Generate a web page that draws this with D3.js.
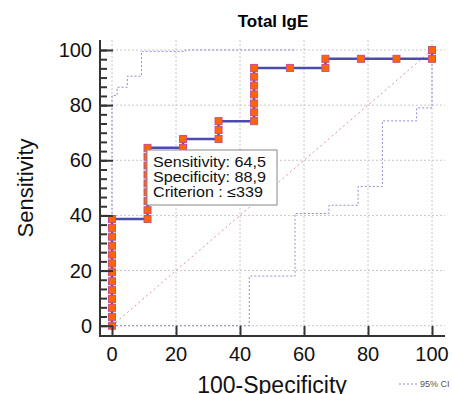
<!DOCTYPE html>
<html>
<head>
<meta charset="utf-8">
<script src="https://cdn.jsdelivr.net/npm/d3@7"></script>
<style>
body { margin: 0; background: #fff; }
text { font-family: "Liberation Sans", Arial, sans-serif; }
</style>
</head>
<body>
<div id="chart"></div>
<script>
// ROC points: 100-Specificity vs Sensitivity
var fpr = [0,0,0,0,0,0,0,0,0,0,0,0,0,
    11.1,11.1,11.1,11.1,11.1,11.1,11.1,11.1,11.1,
    22.2,22.2,
    33.3,33.3,33.3,
    44.4,44.4,44.4,44.4,44.4,44.4,44.4,
    55.6,
    66.7,66.7,
    77.8,
    88.9,
    100,100];
var sens = [0,3.2,6.5,9.7,12.9,16.1,19.4,22.6,25.8,29.0,32.3,35.5,38.7,
    38.7,41.9,45.2,48.4,51.6,54.8,58.1,61.3,64.5,
    64.5,67.7,
    67.7,71.0,74.2,
    74.2,77.4,80.6,83.9,87.1,90.3,93.5,
    93.5,
    93.5,96.8,
    96.8,
    96.8,
    96.8,100];

// 95% CI bands
var upperX = [0,0,1.6,1.6,4.8,4.8,9.2,9.2,23,23,57];
var upperY = [0,83.5,83.5,86.5,86.5,90.5,90.5,99.5,99.5,100,100];
var lowerX = [0,42.9,42.9,57.2,57.2,67.8,67.8,76.9,76.9,84.5,84.5,95.2,95.2,100,100];
var lowerY = [0,0,18,18,40.7,40.7,43.7,43.7,50.5,50.5,74.3,74.3,79,79,96.8];

var ticks = [0, 20, 40, 60, 80, 100];
var boxLines = ["Sensitivity: 64,5", "Specificity: 88,9", "Criterion : \u2264339"];
var boxWidths = [113, 113, 110];

var width = 452, height = 394;
var x = d3.scaleLinear().domain([0, 100]).range([112, 432]);
var y = d3.scaleLinear().domain([0, 100]).range([325.7, 50]);

var svg = d3.select("#chart").append("svg")
    .attr("width", width)
    .attr("height", height);

// grid
svg.append("g").selectAll("line")
    .data(ticks).enter().append("line")
    .attr("x1", function(d) { return x(d); })
    .attr("x2", function(d) { return x(d); })
    .attr("y1", 40).attr("y2", 336)
    .attr("stroke", "#c8c8c8").attr("stroke-dasharray", "2,2");
svg.append("g").selectAll("line")
    .data(ticks).enter().append("line")
    .attr("x1", 100).attr("x2", 445)
    .attr("y1", function(d) { return y(d); })
    .attr("y2", function(d) { return y(d); })
    .attr("stroke", "#c8c8c8").attr("stroke-dasharray", "2,2");

// diagonal
svg.append("line")
    .attr("x1", x(0)).attr("y1", y(0))
    .attr("x2", x(100)).attr("y2", y(100))
    .attr("stroke", "#e09090").attr("stroke-dasharray", "2,3");

var line = d3.line()
    .x(function(d) { return x(d[0]); })
    .y(function(d) { return y(d[1]); });

svg.append("path")
    .attr("d", line(d3.zip(upperX, upperY)))
    .attr("fill", "none").attr("stroke", "#8c8cd8").attr("stroke-dasharray", "2,2");
svg.append("path")
    .attr("d", line(d3.zip(lowerX, lowerY)))
    .attr("fill", "none").attr("stroke", "#8c8cd8").attr("stroke-dasharray", "2,2");

var pts = d3.zip(fpr, sens);
svg.append("path")
    .attr("d", line(pts))
    .attr("fill", "none").attr("stroke", "#4b4bb0").attr("stroke-width", 2.5);

svg.append("g").selectAll("rect")
    .data(pts).enter().append("rect")
    .attr("x", function(d) { return x(d[0]) - 3.5; })
    .attr("y", function(d) { return y(d[1]) - 3.5; })
    .attr("width", 7).attr("height", 7)
    .attr("fill", "#ff6600")
    .attr("stroke", "#c8508a").attr("stroke-width", 1);

// axes
svg.append("g").attr("transform", "translate(100,0)")
    .call(d3.axisRight(y).tickValues(ticks).tickSize(13).tickFormat(""))
    .select(".domain").remove();
svg.append("g").attr("transform", "translate(100,0)")
    .call(d3.axisRight(y).tickValues(d3.range(0, 100.1, 20 / 6)).tickSize(7).tickFormat(""))
    .select(".domain").remove();
svg.append("g").attr("transform", "translate(0,336)")
    .call(d3.axisTop(x).tickValues(ticks).tickSize(10).tickFormat(""))
    .select(".domain").remove();
svg.selectAll(".tick line").attr("stroke", "#333").attr("stroke-width", 2);

svg.append("line").attr("x1", 100).attr("x2", 100).attr("y1", 40).attr("y2", 337)
    .attr("stroke", "#333").attr("stroke-width", 2);
svg.append("line").attr("x1", 99).attr("x2", 445).attr("y1", 336).attr("y2", 336)
    .attr("stroke", "#333").attr("stroke-width", 2);

svg.append("g").selectAll("text")
    .data(ticks).enter().append("text")
    .attr("x", 92).attr("y", function(d) { return y(d) + 7; })
    .attr("text-anchor", "end").attr("font-size", 20).attr("fill", "#111")
    .text(function(d) { return d; });
svg.append("g").selectAll("text")
    .data(ticks).enter().append("text")
    .attr("x", function(d) { return x(d); }).attr("y", 361)
    .attr("text-anchor", "middle").attr("font-size", 20).attr("fill", "#111")
    .text(function(d) { return d; });

svg.append("text")
    .attr("x", 272).attr("y", 393)
    .attr("text-anchor", "middle").attr("font-size", 23).attr("fill", "#111")
    .text("100-Specificity");
svg.append("text")
    .attr("transform", "translate(33,188) rotate(-90)")
    .attr("text-anchor", "middle").attr("font-size", 22).attr("fill", "#111")
    .text("Sensitivity");

svg.append("text")
    .attr("x", 273).attr("y", 27)
    .attr("text-anchor", "middle").attr("font-size", 17).attr("font-weight", "bold")
    .text("Total IgE");

// criterion box
svg.append("rect")
    .attr("x", 147).attr("y", 150).attr("width", 130).attr("height", 55)
    .attr("fill", "#fff").attr("stroke", "#888");
svg.append("g").selectAll("text")
    .data(boxLines).enter().append("text")
    .attr("x", 153).attr("y", function(d, i) { return 166.5 + i * 15.2; })
    .attr("font-size", 14).attr("fill", "#111")
    .attr("textLength", function(d, i) { return boxWidths[i]; })
    .attr("lengthAdjust", "spacingAndGlyphs")
    .text(function(d) { return d; });

// legend
svg.append("line").attr("x1", 399).attr("x2", 417).attr("y1", 384).attr("y2", 384)
    .attr("stroke", "#8c8cd8").attr("stroke-dasharray", "2,2");
svg.append("text").attr("x", 420).attr("y", 387)
    .attr("font-size", 9).attr("fill", "#555").text("95% CI");
</script>
</body>
</html>
